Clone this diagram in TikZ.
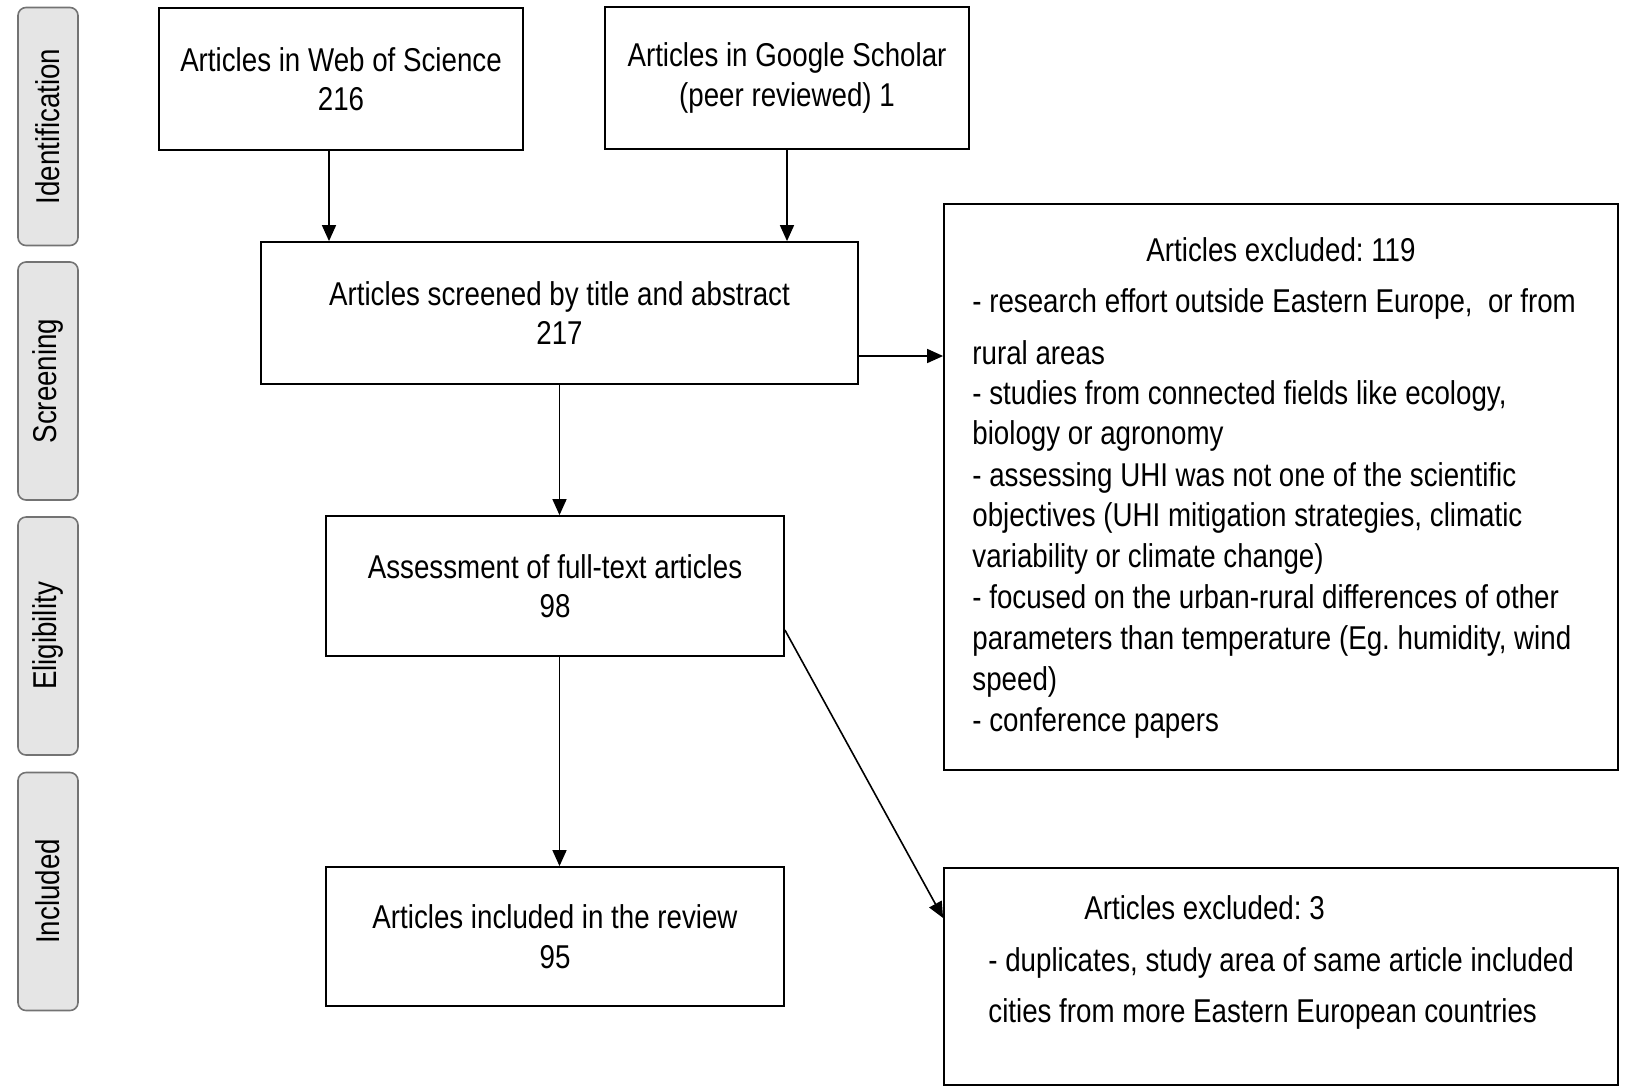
\documentclass[tikz,border=0pt]{standalone}
\usepackage{fontspec}
\setmainfont{Liberation Sans}[FakeStretch=0.84]
\usetikzlibrary{arrows.meta,positioning}
\frenchspacing

\begin{document}
\begin{tikzpicture}[
  x=0.5pt, y=-0.5pt,
  >={Triangle[length=8pt,width=7pt]}, line join=miter,
  every node/.style={font=\fontsize{16.5}{19.7}\selectfont},
  stagebox/.style={draw=black!55, fill=black!10, rounded corners=4pt, line width=0.8pt,
                   minimum width=30pt, minimum height=119pt, inner sep=0pt},
  flowbox/.style={draw, line width=0.9pt, align=center, inner sep=0pt},
  txt/.style={inner sep=0pt, anchor=base west},
  link/.style={->, line width=0.8pt}
]

% page frame (pixel units of the original)
\useasboundingbox (0,0) rectangle (1626,1089);

% --- stage labels on the left ---------------------------------------
\node[stagebox] (identification) at (48,126.5) {\rotatebox{90}{Identification}};
\node[stagebox] (screening)      at (48,381)   {\rotatebox{90}{Screening}};
\node[stagebox] (eligibility)    at (48,636)   {\rotatebox{90}{Eligibility}};
\node[stagebox] (included)       at (48,891.5) {\rotatebox{90}{Included}};

% --- flow boxes -------------------------------------------------------
\node[flowbox, minimum width=182pt, minimum height=71pt] (wos) at (341,79)
  {Articles in Web of Science\\216};
\node[flowbox, minimum width=182pt, minimum height=71pt] (gs) at (787,78)
  {Articles in Google Scholar\\(peer reviewed) 1};
\node[flowbox, minimum width=298.5pt, minimum height=71pt] (screened) at (559.5,313)
  {Articles screened by title and abstract\\217};
\node[flowbox, minimum width=229pt, minimum height=70pt] (assess) at (555,586)
  {Assessment of full-text articles\\98};
\node[flowbox, minimum width=229pt, minimum height=69.5pt] (incl) at (555,936.5)
  {Articles included in the review\\95};

% exclusion boxes (text set line by line below)
\node[flowbox, minimum width=337pt, minimum height=283pt] (excla) at (1281,487) {};
\node[flowbox, minimum width=337pt, minimum height=108.5pt] (exclb) at (1281,976.5) {};

\node[inner sep=0pt, anchor=base] (exclatitle) at (1281,261) {Articles excluded: 119};
\foreach \yy/\txt [count=\i] in {
    312/{- research effort outside Eastern Europe,~ or from},
    364/{rural areas},
    404/{- studies from connected fields like ecology,},
    444/{biology or agronomy},
    486/{- assessing UHI was not one of the scientific},
    526/{objectives (UHI mitigation strategies, climatic},
    567/{variability or climate change)},
    608/{- focused on the urban-rural differences of other},
    649/{parameters than temperature (Eg. humidity, wind},
    690/{speed)},
    731/{- conference papers}}
  \node[txt] (excla\i) at (972,\yy) {\txt};

\node[txt] (exclbtitle) at (1084,919) {Articles excluded: 3};
\node[txt] (exclb1) at (988,971)  {- duplicates, study area of same article included};
\node[txt] (exclb2) at (988,1022) {cities from more Eastern European countries};

% --- connectors -------------------------------------------------------
\draw[link] ([xshift=-6pt]wos.south) -- ([xshift=-6pt]wos.south |- screened.north);
\draw[link] (gs.south) -- (gs.south |- screened.north);
\draw[link] ([yshift=-21.5pt]screened.east) -- ([yshift=-21.5pt]screened.east -| excla.west);
\draw[link] (screened.south) -- (screened.south |- assess.north);
\draw[link] (screened.south |- assess.south) -- (screened.south |- incl.north);
\draw[link] ([yshift=-22pt]assess.east) -- ([yshift=29.25pt]exclb.west);

\end{tikzpicture}
\end{document}
